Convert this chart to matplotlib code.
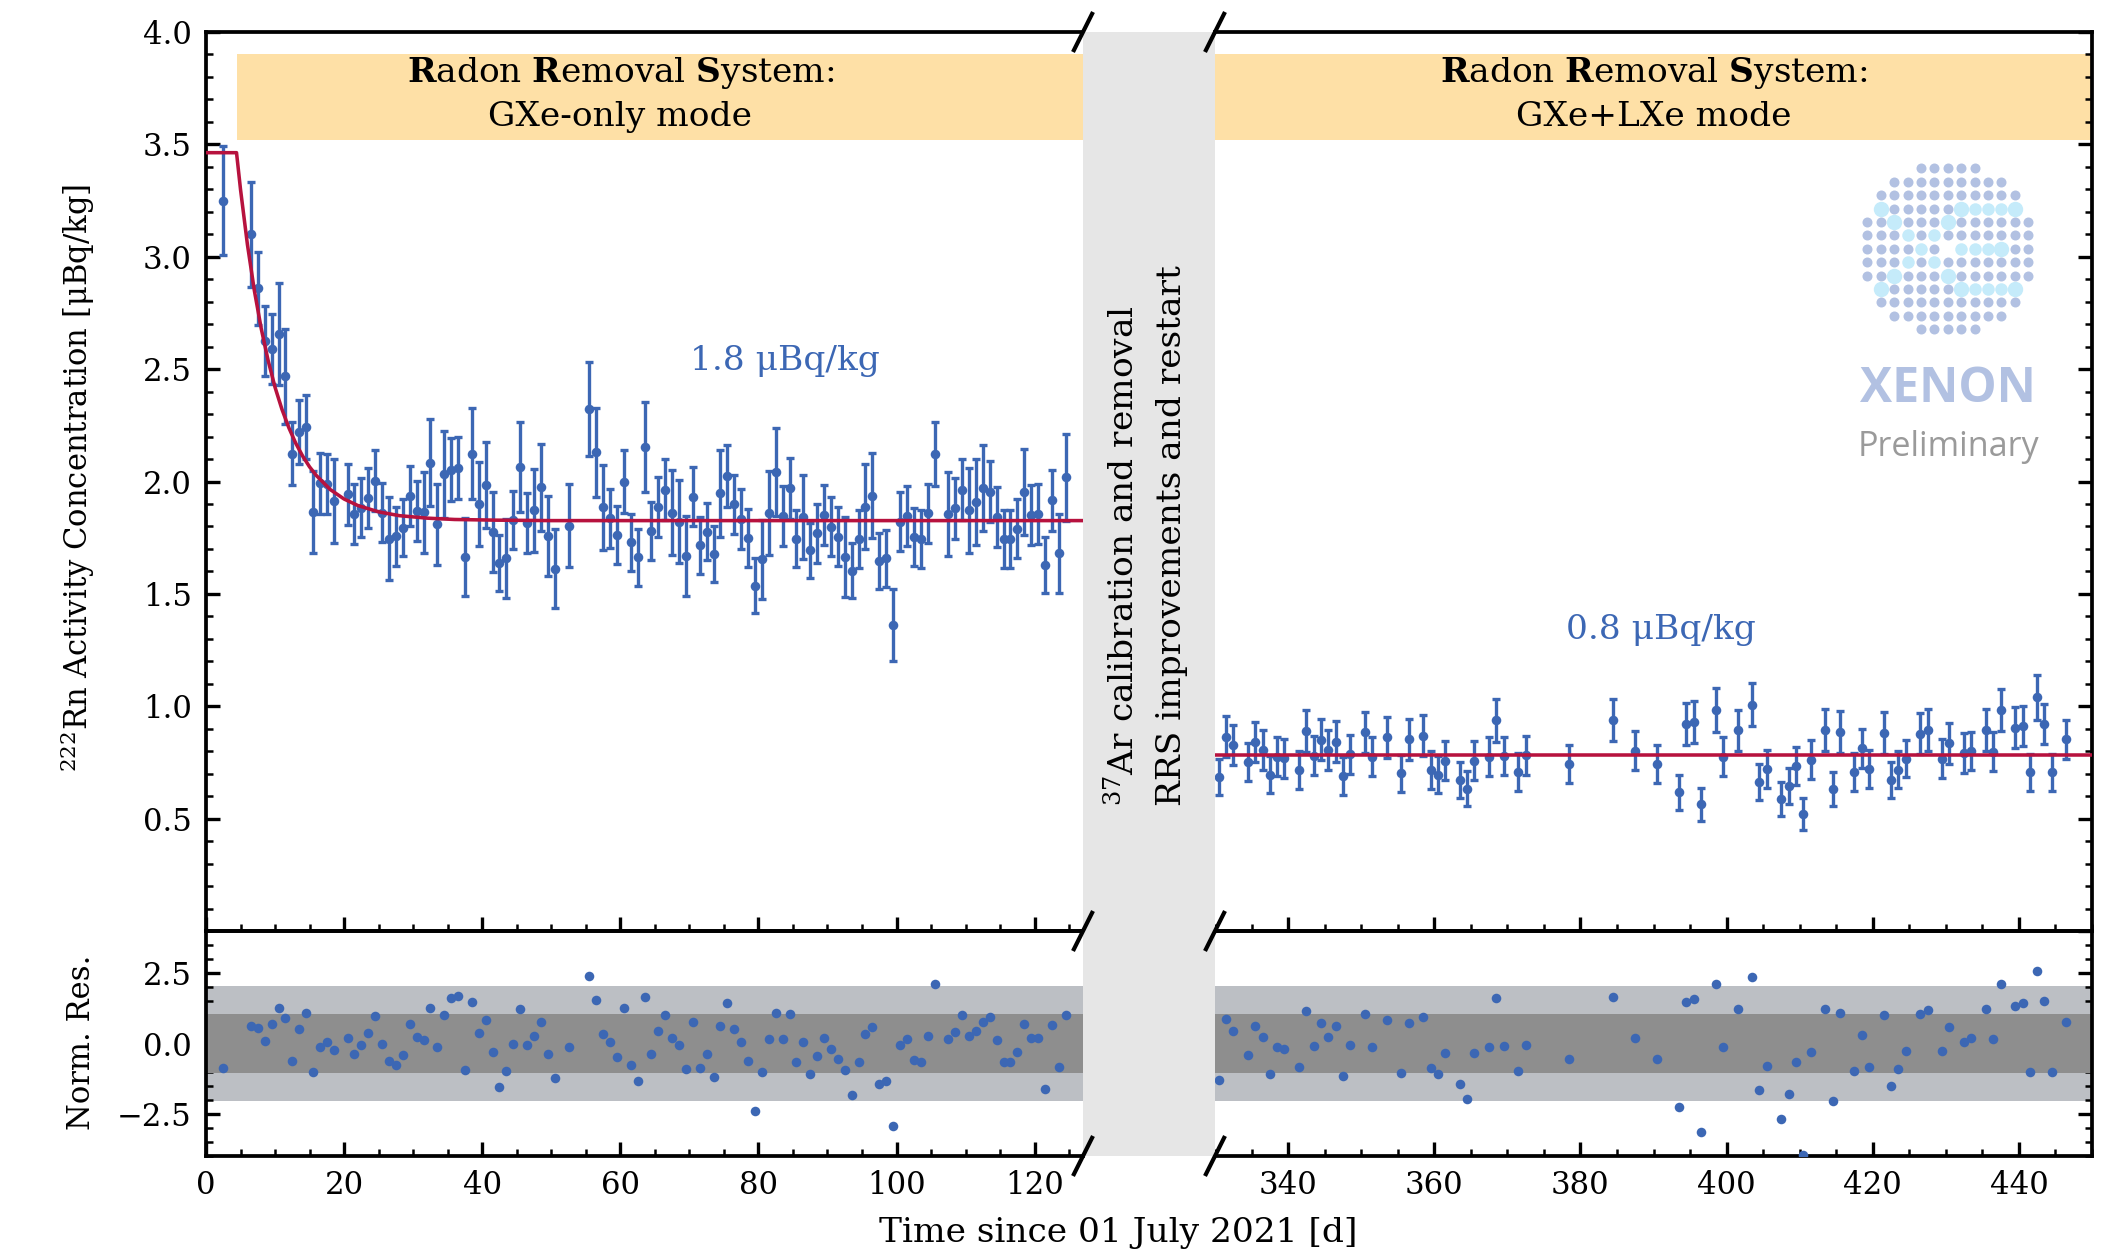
import numpy as np
import matplotlib
matplotlib.use('Agg')
import matplotlib.pyplot as plt
from matplotlib.ticker import MultipleLocator

plt.rcParams['font.family'] = 'DejaVu Serif'
plt.rcParams['mathtext.fontset'] = 'dejavuserif'
plt.rcParams['axes.unicode_minus'] = True

# GXe-only mode: time [d], activity, error, normalised residual
t_gxe = [2.5, 6.5, 7.5, 8.5, 9.5, 10.5, 11.5, 12.5, 13.5, 14.5, 15.5, 16.5, 17.5, 18.5,
         20.5, 21.5, 22.5, 23.5, 24.5, 25.5, 26.5, 27.5, 28.5, 29.5, 30.5, 31.5, 32.5, 33.5,
         34.5, 35.5, 36.5, 37.5, 38.5, 39.5, 40.5, 41.5, 42.5, 43.5, 44.5, 45.5, 46.5, 47.5,
         48.5, 49.5, 50.5, 52.5, 55.5, 56.5, 57.5, 58.5, 59.5, 60.5, 61.5, 62.5, 63.5, 64.5,
         65.5, 66.5, 67.5, 68.5, 69.5, 70.5, 71.5, 72.5, 73.5, 74.5, 75.5, 76.5, 77.5, 78.5,
         79.5, 80.5, 81.5, 82.5, 83.5, 84.5, 85.5, 86.5, 87.5, 88.5, 89.5, 90.5, 91.5, 92.5,
         93.5, 94.5, 95.5, 96.5, 97.5, 98.5, 99.5, 100.5, 101.5, 102.5, 103.5, 104.5, 105.5,
         107.5, 108.5, 109.5, 110.5, 111.5, 112.5, 113.5, 114.5, 115.5, 116.5, 117.5, 118.5,
         119.5, 120.5, 121.5, 122.5, 123.5, 124.5]
val_gxe = [3.25, 3.10, 2.86, 2.626, 2.589, 2.656, 2.469, 2.124, 2.219, 2.244, 1.863, 1.992, 1.989, 1.913,
           1.944, 1.854, 1.883, 1.926, 2.004, 1.861, 1.746, 1.756, 1.794, 1.935, 1.869, 1.863, 2.084, 1.809,
           2.032, 2.053, 2.061, 1.664, 2.124, 1.900, 1.984, 1.775, 1.636, 1.658, 1.829, 2.066, 1.817, 1.872,
           1.974, 1.757, 1.612, 1.803, 2.322, 2.130, 1.886, 1.836, 1.763, 2.0, 1.729, 1.663, 2.155, 1.780,
           1.885, 1.963, 1.861, 1.822, 1.669, 1.933, 1.716, 1.777, 1.678, 1.948, 2.024, 1.898, 1.832, 1.749,
           1.537, 1.654, 1.859, 2.041, 1.847, 1.970, 1.746, 1.842, 1.693, 1.769, 1.851, 1.799, 1.755, 1.662,
           1.604, 1.744, 1.888, 1.937, 1.647, 1.658, 1.361, 1.822, 1.848, 1.752, 1.744, 1.859, 2.121,
           1.856, 1.881, 1.963, 1.873, 1.909, 1.971, 1.955, 1.841, 1.744, 1.744, 1.790, 1.955,
           1.851, 1.854, 1.628, 1.916, 1.680, 2.019]
err_gxe = [.242, .234, .162, .156, .155, .225, .211, .139, .143, .143, .182, .137, .133, .187,
           .136, .133, .132, .133, .137, .131, .183, .130, .127, .133, .133, .181, .193, .182,
           .194, .139, .138, .175, .202, .188, .190, .179, .125, .177, .128, .200, .133, .184,
           .195, .179, .176, .185, .208, .199, .189, .132, .130, .139, .126, .126, .200, .130,
           .133, .135, .188, .186, .179, .133, .127, .128, .126, .193, .139, .133, .133, .129,
           .122, .175, .188, .196, .133, .135, .128, .188, .124, .130, .133, .132, .130, .178,
           .124, .129, .188, .188, .126, .126, .160, .133, .133, .128, .130, .132, .142,
           .186, .135, .135, .189, .190, .193, .136, .133, .130, .129, .130, .191,
           .133, .133, .124, .136, .176, .193]
res_gxe = [-.88, .62, .56, .08, .70, 1.26, .89, -.62, .52, 1.07, -1.01, -.14, .06, -.24,
           .21, -.36, -.06, .36, .97, -.01, -.62, -.75, -.42, .69, .23, .12, 1.28, -.14,
           1.02, 1.63, 1.69, -.95, 1.47, .38, .83, -.31, -1.54, -.96, -.01, 1.22, -.05, .25,
           .76, -.38, -1.22, -.13, 2.41, 1.54, .33, .06, -.49, 1.26, -.77, -1.32, 1.64, -.36,
           .44, 1.00, .19, -.05, -.89, .78, -.87, -.39, -1.18, .63, 1.45, .53, .04, -.61,
           -2.41, -1.00, .17, 1.09, .15, 1.06, -.64, .07, -1.08, -.45, .18, -.21, -.56, -.93,
           -1.82, -.64, .33, .59, -1.44, -1.34, -2.92, -.05, .17, -.58, -.65, .26, 2.10,
           .15, .40, 1.00, .25, .44, .75, .95, .11, -.64, -.65, -.29, .68,
           .18, .20, -1.60, .65, -.84, 1.00]

# GXe+LXe mode
t_lxe = [330.5, 331.5, 332.5, 334.5, 335.5, 336.5, 337.5, 338.5, 339.5, 341.5, 342.5, 343.5, 344.5,
         345.5, 346.5, 347.5, 348.5, 350.5, 351.5, 353.5, 355.5, 356.5, 358.5, 359.5, 360.5, 361.5,
         363.5, 364.5, 365.5, 367.5, 368.5, 369.5, 371.5, 372.5, 378.5, 384.5, 387.5, 390.5, 393.5,
         394.5, 395.5, 396.5, 398.5, 399.5, 401.5, 403.5, 404.5, 405.5, 407.5, 408.5, 409.5, 410.5,
         411.5, 413.5, 414.5, 415.5, 417.5, 418.5, 419.5, 421.5, 422.5, 423.5, 424.5, 426.5, 427.5,
         429.5, 430.5, 432.5, 433.5, 435.5, 436.5, 437.5, 439.5, 440.5, 441.5, 442.5, 443.5, 444.5,
         446.5]
val_lxe = [.684, .865, .826, .752, .842, .805, .696, .775, .769, .718, .890, .779, .852,
           .805, .842, .691, .786, .884, .776, .862, .702, .853, .869, .717, .696, .758,
           .671, .634, .757, .775, .938, .778, .708, .781, .742, .939, .803, .742, .617,
           .920, .930, .564, .983, .776, .893, 1.007, .663, .721, .588, .645, .733, .520,
           .762, .896, .633, .884, .709, .813, .720, .880, .671, .717, .767, .878, .895,
           .766, .835, .794, .801, .896, .798, .982, .905, .912, .706, 1.040, .921, .706,
           .853]
err_lxe = [.081, .091, .089, .085, .090, .090, .082, .087, .087, .085, .093, .087, .091,
           .090, .092, .084, .088, .092, .087, .092, .082, .091, .091, .083, .082, .087,
           .081, .079, .087, .087, .096, .086, .084, .087, .084, .093, .087, .085, .077,
           .093, .093, .073, .096, .087, .090, .096, .079, .083, .076, .079, .084, .070,
           .087, .093, .076, .093, .084, .088, .084, .093, .079, .082, .084, .090, .093,
           .087, .090, .089, .086, .093, .086, .094, .091, .091, .082, .100, .091, .082,
           .087]
res_lxe = [-1.28, .87, .46, -.42, .64, .23, -1.10, -.11, -.18, -.83, 1.14, -.10, .74,
           .23, .64, -1.16, -.04, 1.05, -.11, .84, -1.05, .74, .94, -.87, -1.10, -.34,
           -1.43, -1.96, -.34, -.11, 1.62, -.08, -.97, -.06, -.55, 1.66, .20, -.55, -2.26,
           1.48, 1.57, -3.15, 2.10, -.11, 1.24, 2.38, -1.64, -.81, -2.68, -1.81, -.65, -3.95,
           -.29, 1.22, -2.05, 1.07, -.96, .32, -.83, 1.02, -1.50, -.89, -.25, 1.06, 1.19,
           -.26, .57, .06, .18, 1.22, .15, 2.13, 1.33, 1.43, -1.03, 2.59, 1.52, -1.03,
           .77]

# fit curves
fit_t_gxe = [0, 4.42, 5, 6, 7, 8, 9, 10, 11, 12, 13, 14, 15, 16, 18, 20, 22, 25, 28, 32, 36, 42, 50, 127]
fit_gxe = [3.463, 3.463, 3.299, 3.054, 2.850, 2.680, 2.538, 2.419, 2.321, 2.239, 2.170, 2.113, 2.065,
           2.026, 1.964, 1.922, 1.893, 1.865, 1.848, 1.837, 1.831, 1.828, 1.826, 1.826]
fit_t_lxe = [330, 450]
fit_lxe = [0.785, 0.785]

blue = '#3c67b4'
red = '#b7123e'
W, H = 2107, 1254

fig = plt.figure(figsize=(W / 300, H / 300), dpi=300)


def make_axes(x0, x1, y0, y1):
    return fig.add_axes([x0 / W, 1 - y1 / H, (x1 - x0) / W, (y1 - y0) / H])


ax_top_l = make_axes(206, 1083, 32, 931)
ax_top_r = make_axes(1215, 2092, 32, 931)
ax_res_l = make_axes(206, 1083, 931, 1156)
ax_res_r = make_axes(1215, 2092, 931, 1156)

# activity panels
for ax, t, val, err in [(ax_top_l, t_gxe, val_gxe, err_gxe), (ax_top_r, t_lxe, val_lxe, err_lxe)]:
    ax.errorbar(t, val, yerr=err, fmt='none', ecolor=blue, elinewidth=0.8,
                capsize=0.85, capthick=0.8, zorder=3)
    ax.plot(t, val, 'o', color=blue, ms=2.3, mew=0, zorder=3)
ax_top_l.plot(fit_t_gxe, fit_gxe, color=red, lw=0.85, zorder=4)
ax_top_r.plot(fit_t_lxe, fit_lxe, color=red, lw=0.85, zorder=4)

# removal system banners
ax_top_l.fill_between([4.5, 127], 3.52, 3.90, color='#fee0a6', lw=0, zorder=1)
ax_top_r.fill_between([330, 450], 3.52, 3.90, color='#fee0a6', lw=0, zorder=1)
ax_top_l.text(60, 3.722, '$\\mathbf{R}$adon $\\mathbf{R}$emoval $\\mathbf{S}$ystem:\nGXe-only mode',
              ha='center', va='center', fontsize=8.25, linespacing=1.4, zorder=5)
ax_top_r.text(390, 3.722, '$\\mathbf{R}$adon $\\mathbf{R}$emoval $\\mathbf{S}$ystem:\nGXe+LXe mode',
              ha='center', va='center', fontsize=8.25, linespacing=1.4, zorder=5)
ax_top_l.text(83.8, 2.538, '1.8 μBq/kg', color=blue, ha='center', va='center', fontsize=8.25)
ax_top_r.text(391, 1.338, '0.8 μBq/kg', color=blue, ha='center', va='center', fontsize=8.25)

# residual panels
for ax, t, res in [(ax_res_l, t_gxe, res_gxe), (ax_res_r, t_lxe, res_lxe)]:
    ax.axhspan(-2.05, 2.05, color='#bcbfc4', lw=0, zorder=1)
    ax.axhspan(-1.05, 1.05, color='#8e8e8e', lw=0, zorder=2)
    ax.plot(t, res, 'o', color=blue, ms=2.3, mew=0, zorder=3)

# axis limits, ticks, spines
for ax in [ax_top_l, ax_res_l]:
    ax.set_xlim(0, 127)
    ax.xaxis.set_major_locator(MultipleLocator(20))
    ax.xaxis.set_minor_locator(MultipleLocator(5))
    ax.spines['right'].set_visible(False)
for ax in [ax_top_r, ax_res_r]:
    ax.set_xlim(330, 450)
    ax.xaxis.set_major_locator(MultipleLocator(20))
    ax.xaxis.set_minor_locator(MultipleLocator(5))
    ax.spines['left'].set_visible(False)
for ax in [ax_top_l, ax_top_r]:
    ax.set_ylim(0, 4)
    ax.yaxis.set_major_locator(MultipleLocator(0.5))
    ax.yaxis.set_minor_locator(MultipleLocator(0.1))
for ax in [ax_res_l, ax_res_r]:
    ax.set_ylim(-4, 4)
    ax.yaxis.set_major_locator(MultipleLocator(2.5))
    ax.yaxis.set_minor_locator(MultipleLocator(0.5))
for ax in [ax_top_l, ax_top_r, ax_res_l, ax_res_r]:
    for s in ax.spines.values():
        s.set_linewidth(0.9)
    ax.tick_params(which='major', direction='in', length=3.4, width=0.8, labelsize=7.4, pad=3.4)
    ax.tick_params(which='minor', direction='in', length=1.7, width=0.6)
    ax.set_zorder(2)
    ax.patch.set_alpha(0)
for ax in [ax_top_r, ax_res_r]:
    ax.tick_params(which='both', left=False, right=True, labelleft=False)
for ax in [ax_top_l, ax_top_r]:
    ax.tick_params(which='both', labelbottom=False)
ax_top_l.set_yticks(np.arange(0.5, 4.01, 0.5))

ax_top_l.set_ylabel('$^{222}$Rn Activity Concentration [μBq/kg]', fontsize=7.35)
ax_top_l.yaxis.set_label_coords(-0.124, 0.504)
ax_res_l.set_ylabel('Norm. Res.', fontsize=7.35)
ax_res_l.yaxis.set_label_coords(-0.124, 0.505)
fig.text(1118 / W, 1 - 1233 / H, 'Time since 01 July 2021 [d]', ha='center', va='center', fontsize=8.25)

# overlay in pixel coordinates for the gap, break marks and logo
ov = fig.add_axes([0, 0, 1, 1], zorder=5)
ov.set_xlim(0, W)
ov.set_ylim(H, 0)
ov.axis('off')
ov.fill_between([1083, 1215], 32, 1156, color='#e6e6e6', lw=0)
ov.text(1124, 806, '$^{37}$Ar calibration and removal', rotation=90, ha='center', va='bottom', fontsize=8.25)
ov.text(1172, 806, 'RRS improvements and restart', rotation=90, ha='center', va='bottom', fontsize=8.25)
for bx in [1083, 1215]:
    for by in [32, 931, 1156]:
        ov.plot([bx - 10, bx + 10], [by + 20, by - 20], color='k', lw=1.0, solid_capstyle='butt',
                clip_on=False)

# XENON logo
cx, cy, step = 1947.7, 248.7, 13.4
half_width = {6: 2, 5: 4, 4: 5, 3: 5, 2: 6, 1: 6, 0: 6}
big = {(-3, -5), (-3, 1), (-3, 5), (-2, -4), (-2, 0), (0, 4), (2, -4), (2, 0), (3, -5), (3, 1), (3, 5)}
small_pale = {(-3, 2), (-3, 3), (-3, 4), (-1, -3), (-1, -1), (0, -2), (0, 1), (0, 2), (0, 3),
              (1, -3), (1, -1), (3, 2), (3, 3), (3, 4)}
for row in range(-6, 7):
    n = half_width[abs(row)]
    for col in range(-n, n + 1):
        if (row, col) == (0, 0):
            continue
        if (row, col) in big:
            ov.plot(cx + col * step, cy + row * step, 'o', color='#c5ebfa', ms=3.7, mew=0)
        elif (row, col) in small_pale:
            ov.plot(cx + col * step, cy + row * step, 'o', color='#c5ebfa', ms=3.0, mew=0)
        else:
            ov.plot(cx + col * step, cy + row * step, 'o', color='#b2c1e2', ms=2.4, mew=0)
ov.text(1947.7, 390, 'XENON', color='#b2c1e2', ha='center', va='center', fontsize=11.55,
        fontweight='bold', family='Open Sans')
ov.text(1948, 447, 'Preliminary', color='#9a9a9a', ha='center', va='center', fontsize=8.2,
        family='Open Sans')
ov.set_xlim(0, W)
ov.set_ylim(H, 0)

fig.savefig('out.png', dpi=300)
